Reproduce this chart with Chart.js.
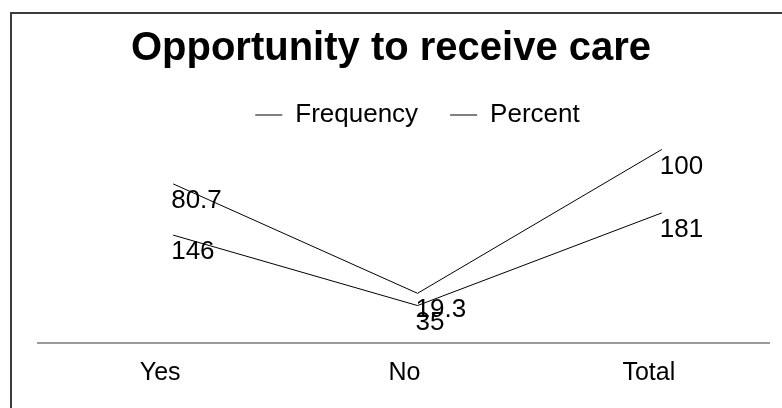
<!DOCTYPE html>
<html>
<head>
<meta charset="utf-8">
<script src="https://cdn.jsdelivr.net/npm/chart.js@4.4.1/dist/chart.umd.min.js"></script>
<style>
  html, body { margin: 0; padding: 0; background: #fff; overflow: hidden; }
  #wrap { position: relative; width: 782px; height: 408px; overflow: hidden; }
  #frame { position: absolute; left: 10px; top: 12px; width: 1000px; height: 1000px;
           border-left: 2px solid #3c3c3c; border-top: 2px solid #3c3c3c; }
  #title { position: absolute; left: 0; top: 22px; width: 782px; text-align: center;
           font: bold 40px "Liberation Sans", Arial, sans-serif; line-height: 48px; color: #000; }
  canvas { position: absolute; left: 0; top: 0; }
</style>
</head>
<body>
<div id="wrap">
  <div id="frame"></div>
  <canvas id="myCanvas" width="800" height="408"></canvas>
  <div id="title">Opportunity to receive care</div>
</div>
<script>
var categories = ["Yes", "No", "Total"];
var frequency = [146, 35, 181];
var percent = [80.7, 19.3, 100];
var seriesNames = ["Frequency", "Percent"];

var fontFamily = '"Liberation Sans", Arial, sans-serif';

// value labels next to each point (no datalabels plugin offline)
var valueLabels = {
  id: 'valueLabels',
  afterDatasetsDraw: function(chart){
    var ctx = chart.ctx;
    ctx.save();
    ctx.font = '26px ' + fontFamily;
    ctx.fillStyle = '#000';
    ctx.textAlign = 'left';
    ctx.textBaseline = 'middle';
    chart.data.datasets.forEach(function(ds, i){
      chart.getDatasetMeta(i).data.forEach(function(pt, j){
        ctx.fillText(String(ds.data[j]), pt.x - 2, pt.y + 17);
      });
    });
    ctx.restore();
  }
};

// category axis line, spans the category bands
var baseLine = {
  id: 'baseLine',
  beforeDatasetsDraw: function(chart){
    var a = chart.chartArea, ctx = chart.ctx;
    ctx.save();
    ctx.strokeStyle = '#7a7a7a';
    ctx.lineWidth = 1.5;
    ctx.beginPath();
    ctx.moveTo(a.left - 14, a.bottom);
    ctx.lineTo(a.right - 14, a.bottom);
    ctx.stroke();
    ctx.restore();
  }
};

var ctx = document.getElementById('myCanvas').getContext('2d');
var chart = new Chart(ctx, {
  type: 'line',
  data: {
    labels: categories,
    datasets: [
      { label: seriesNames[0], data: frequency, borderColor: '#000', backgroundColor: '#000',
        borderWidth: 1, pointRadius: 0, tension: 0, fill: false, clip: false },
      { label: seriesNames[1], data: percent, borderColor: '#000', backgroundColor: '#000',
        borderWidth: 1, pointRadius: 0, tension: 0, fill: false, clip: false }
    ]
  },
  options: {
    responsive: false,
    animation: false,
    layout: { padding: { left: 51, right: 16, top: 70, bottom: 5 } },
    plugins: {
      title: { display: false },
      tooltip: { enabled: false },
      legend: {
        display: true,
        position: 'top',
        labels: {
          usePointStyle: true,
          pointStyle: 'line',
          pointStyleWidth: 27,
          boxHeight: 2,
          padding: 32,
          color: '#000',
          font: { size: 26, family: fontFamily }
        }
      }
    },
    scales: {
      x: {
        offset: true,
        grid: { display: false, drawTicks: false },
        border: { display: false },
        ticks: { labelOffset: -13, padding: 15, color: '#000', font: { size: 25, family: fontFamily } }
      },
      y: {
        stacked: true,
        display: false,
        min: -24,
        max: 299
      }
    }
  },
  plugins: [baseLine, valueLabels]
});
</script>
</body>
</html>
